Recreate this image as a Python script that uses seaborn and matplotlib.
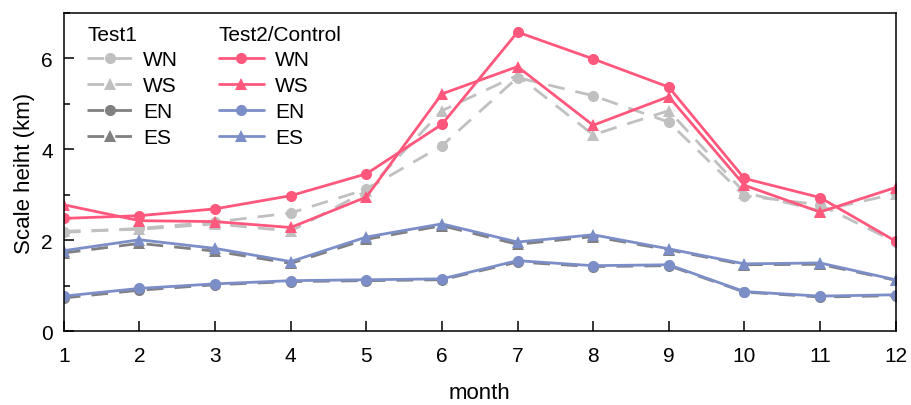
import matplotlib
matplotlib.use("Agg")
import matplotlib.pyplot as plt
import seaborn as sns
import pandas as pd
from matplotlib.ticker import MultipleLocator

sns.set_style("ticks")
plt.rcParams['font.family'] = ['Liberation Sans', 'DejaVu Sans']
plt.rcParams['text.color'] = 'black'
plt.rcParams['axes.labelcolor'] = 'black'
plt.rcParams['xtick.color'] = 'black'
plt.rcParams['ytick.color'] = 'black'

months = list(range(1, 13))

# Test1 (dashed, grey)
t1_wn = [2.17, 2.26, 2.40, 2.60, 3.12, 4.08, 5.58, 5.18, 4.60, 2.98, 2.78, 1.96]
t1_ws = [2.20, 2.24, 2.36, 2.20, 3.08, 4.85, 5.63, 4.32, 4.85, 3.05, 2.65, 3.02]
t1_en = [0.73, 0.90, 1.02, 1.09, 1.11, 1.13, 1.52, 1.42, 1.44, 0.86, 0.75, 0.78]
t1_es = [1.72, 1.93, 1.76, 1.49, 2.02, 2.32, 1.91, 2.08, 1.79, 1.46, 1.47, 1.12]

# Test2/Control (solid, coloured)
t2_wn = [2.48, 2.54, 2.69, 2.98, 3.46, 4.55, 6.58, 5.99, 5.37, 3.36, 2.94, 1.98]
t2_ws = [2.78, 2.43, 2.41, 2.28, 2.95, 5.22, 5.82, 4.53, 5.16, 3.21, 2.62, 3.16]
t2_en = [0.77, 0.94, 1.04, 1.11, 1.13, 1.15, 1.55, 1.44, 1.46, 0.87, 0.77, 0.80]
t2_es = [1.77, 2.01, 1.82, 1.53, 2.07, 2.36, 1.96, 2.12, 1.81, 1.48, 1.50, 1.13]

region_labels = ["WN", "WS", "EN", "ES"]

red = "#FF587C"
blue = "#7B8EC8"
light_grey = "#C0C0C0"
dark_grey = "#808080"

fig, ax = plt.subplots(figsize=(9.12, 4.06), dpi=100)
fig.subplots_adjust(left=0.070, right=0.982, bottom=0.182, top=0.9655)

t1_series = [t1_wn, t1_ws, t1_en, t1_es]
t2_series = [t2_wn, t2_ws, t2_en, t2_es]
t1_colors = [light_grey, light_grey, dark_grey, dark_grey]
t2_colors = [red, red, blue, blue]
markers = ["o", "^", "o", "^"]

h1 = []
for vals, col, mk in zip(t1_series, t1_colors, markers):
    df = pd.DataFrame({"month": months, "value": vals})
    sns.lineplot(data=df, x="month", y="value", ax=ax, color=col, marker=mk,
                 markersize=8, markeredgewidth=0, linewidth=2,
                 linestyle=(0, (6, 4)))
    h1.append(ax.lines[-1])

h2 = []
for vals, col, mk in zip(t2_series, t2_colors, markers):
    df = pd.DataFrame({"month": months, "value": vals})
    sns.lineplot(data=df, x="month", y="value", ax=ax, color=col, marker=mk,
                 markersize=8, markeredgewidth=0, linewidth=2)
    h2.append(ax.lines[-1])

ax.set_xlim(1, 12)
ax.set_ylim(0, 7)
ax.set_xticks(months)
ax.set_yticks([0, 2, 4, 6])
ax.yaxis.set_minor_locator(MultipleLocator(1))
ax.tick_params(axis="both", which="major", direction="in", length=7, width=1.1,
               labelsize=15)
ax.tick_params(axis="x", which="major", pad=11)
ax.tick_params(axis="y", which="major", pad=8)
ax.tick_params(axis="y", which="minor", direction="in", length=4, width=1.1)
for sp in ax.spines.values():
    sp.set_linewidth(1.1)
    sp.set_color("black")
ax.set_xlabel("month", fontsize=16, labelpad=12)
ax.set_ylabel("Scale heiht (km)", fontsize=16, labelpad=4)

leg_kw = dict(frameon=False, fontsize=15, title_fontsize=15, handlelength=2.2,
              handletextpad=0.5, labelspacing=0.33, alignment="left",
              loc="upper left", borderaxespad=0)
leg1 = ax.legend(h1, region_labels, title="Test1",
                 bbox_to_anchor=(0.018, 0.99), **leg_kw)
ax.add_artist(leg1)
leg2 = ax.legend(h2, region_labels, title="Test2/Control",
                 bbox_to_anchor=(0.176, 0.99), **leg_kw)

fig.savefig("out.png", dpi=100)
